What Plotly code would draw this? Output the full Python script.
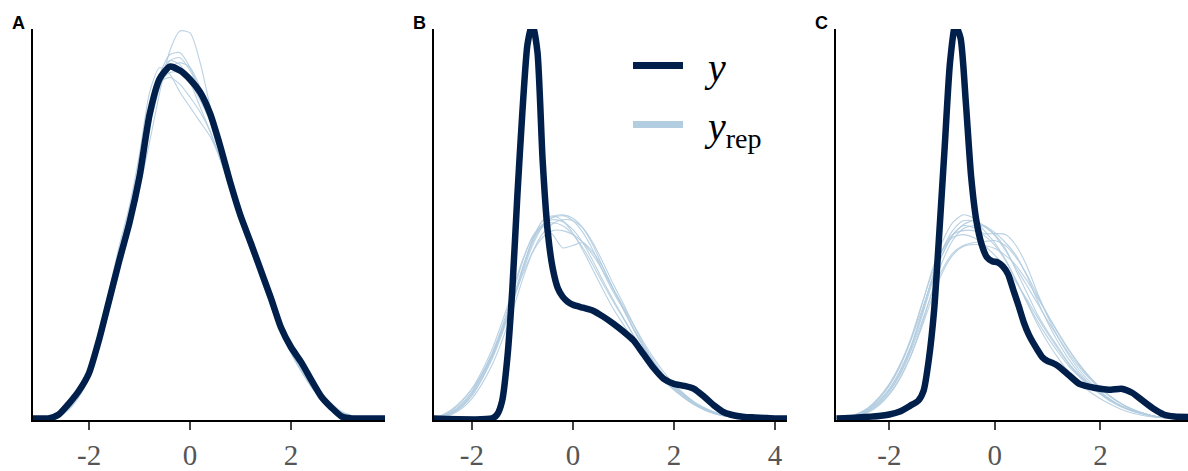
import plotly.graph_objects as go

# ---------------- data ----------------
panel_labels = ["A", "B", "C"]
tick_vals = [[-2, 0, 2], [-2, 0, 2, 4], [-2, 0, 2]]
tick_text = [["-2", "0", "2"], ["-2", "0", "2", "4"], ["-2", "0", "2"]]

# Panel A (density estimates)
grid_a = [round(-3.2 + 0.2 * i, 1) for i in range(37)]
y_a = [0, 0, 0, 0.004, 0.015, 0.028, 0.046, 0.080, 0.120, 0.160, 0.198, 0.245, 0.308, 0.344, 0.356,
       0.352, 0.343, 0.330, 0.308, 0.275, 0.238, 0.205, 0.178, 0.150, 0.122, 0.092, 0.072, 0.057,
       0.039, 0.022, 0.011, 0.002, 0, 0, 0, 0, 0]
yrep_a = [
    [0, 0, 0.001, 0.003, 0.010, 0.022, 0.042, 0.072, 0.110, 0.150, 0.190, 0.232, 0.280, 0.330, 0.372, 0.392, 0.390, 0.360, 0.315, 0.275, 0.238, 0.205, 0.175, 0.145, 0.115, 0.088, 0.066, 0.048, 0.032, 0.020, 0.011, 0.005, 0.002, 0, 0, 0, 0],
    [0, 0, 0.001, 0.005, 0.015, 0.030, 0.050, 0.085, 0.130, 0.175, 0.215, 0.268, 0.330, 0.355, 0.348, 0.330, 0.315, 0.300, 0.285, 0.262, 0.232, 0.202, 0.172, 0.142, 0.114, 0.088, 0.066, 0.048, 0.032, 0.020, 0.011, 0.005, 0.002, 0, 0, 0, 0],
    [0, 0, 0, 0.003, 0.012, 0.026, 0.046, 0.080, 0.122, 0.165, 0.205, 0.250, 0.305, 0.348, 0.368, 0.370, 0.355, 0.330, 0.300, 0.265, 0.232, 0.202, 0.172, 0.142, 0.114, 0.088, 0.068, 0.050, 0.034, 0.022, 0.012, 0.005, 0.002, 0, 0, 0, 0],
    [0, 0, 0.001, 0.004, 0.014, 0.028, 0.048, 0.082, 0.125, 0.168, 0.205, 0.248, 0.300, 0.340, 0.362, 0.365, 0.352, 0.330, 0.302, 0.270, 0.236, 0.205, 0.176, 0.147, 0.118, 0.090, 0.069, 0.052, 0.036, 0.023, 0.013, 0.006, 0.002, 0, 0, 0, 0],
    [0, 0, 0, 0.003, 0.011, 0.024, 0.044, 0.078, 0.120, 0.162, 0.202, 0.250, 0.308, 0.348, 0.362, 0.358, 0.340, 0.315, 0.290, 0.262, 0.232, 0.204, 0.176, 0.150, 0.122, 0.095, 0.072, 0.054, 0.037, 0.024, 0.013, 0.006, 0.002, 0, 0, 0, 0],
    [0, 0, 0.001, 0.004, 0.013, 0.027, 0.047, 0.082, 0.126, 0.170, 0.210, 0.258, 0.312, 0.340, 0.345, 0.338, 0.325, 0.310, 0.290, 0.262, 0.232, 0.204, 0.176, 0.148, 0.120, 0.093, 0.070, 0.052, 0.036, 0.023, 0.013, 0.006, 0.002, 0, 0, 0, 0],
    [0, 0, 0, 0.002, 0.009, 0.022, 0.042, 0.076, 0.118, 0.160, 0.200, 0.244, 0.295, 0.335, 0.355, 0.360, 0.355, 0.335, 0.305, 0.268, 0.230, 0.198, 0.170, 0.142, 0.116, 0.092, 0.072, 0.055, 0.039, 0.026, 0.015, 0.007, 0.003, 0.001, 0, 0, 0],
    [0, 0, 0.001, 0.004, 0.014, 0.029, 0.050, 0.084, 0.128, 0.170, 0.206, 0.252, 0.306, 0.340, 0.350, 0.350, 0.340, 0.322, 0.300, 0.272, 0.240, 0.208, 0.178, 0.148, 0.118, 0.090, 0.068, 0.050, 0.034, 0.021, 0.011, 0.005, 0.002, 0, 0, 0, 0],
]

# Panel B
x_b = [-2.8, -1.6, -1.5, -1.4, -1.3, -1.2, -1.1, -1.0, -0.9, -0.8, -0.7, -0.6, -0.5, -0.4, -0.3, -0.2,
       -0.1, 0.0, 0.2, 0.4, 0.6, 0.8, 1.0, 1.2, 1.4, 1.6, 1.8, 2.0, 2.2, 2.4, 2.6, 2.8, 3.0, 3.2, 3.4,
       3.6, 3.8, 4.0, 4.4]
y_b = [0, 0, 0.008, 0.036, 0.12, 0.26, 0.45, 0.62, 0.756, 0.80, 0.74, 0.524, 0.38, 0.304, 0.264, 0.246,
       0.236, 0.23, 0.224, 0.218, 0.206, 0.192, 0.176, 0.158, 0.13, 0.102, 0.08, 0.07, 0.066, 0.06,
       0.044, 0.026, 0.012, 0.006, 0.003, 0.002, 0.001, 0, 0]
grid_b = [round(-2.8 + 0.2 * i, 1) for i in range(37)]
yrep_b = [
    [0, .004, .012, .028, .052, .088, .128, .18, .236, .30, .356, .39, .406, .41, .40, .376, .34, .296, .256, .22, .18, .144, .112, .084, .064, .048, .032, .02, .012, .006, .003, .001, 0, 0, 0, 0, 0],
    [0, .006, .016, .034, .06, .096, .14, .196, .256, .32, .366, .388, .372, .345, .350, .356, .336, .305, .262, .222, .182, .146, .114, .086, .064, .046, .03, .018, .01, .005, .002, .001, 0, 0, 0, 0, 0],
    [0, .003, .01, .024, .046, .08, .12, .172, .232, .3, .362, .4, .41, .4, .375, .34, .3, .26, .222, .19, .158, .128, .1, .076, .058, .042, .028, .017, .01, .005, .002, .001, 0, 0, 0, 0, 0],
    [0, .002, .008, .02, .04, .07, .108, .158, .216, .28, .336, .374, .394, .402, .40, .385, .355, .315, .272, .232, .19, .15, .116, .088, .066, .048, .032, .02, .012, .006, .003, .001, 0, 0, 0, 0, 0],
    [0, .006, .018, .036, .06, .09, .13, .186, .25, .316, .368, .392, .396, .39, .372, .345, .31, .272, .236, .202, .168, .136, .106, .08, .06, .044, .03, .019, .011, .006, .003, .001, 0, 0, 0, 0, 0],
    [0, .003, .01, .024, .046, .08, .124, .176, .232, .294, .35, .388, .408, .412, .405, .385, .35, .305, .262, .222, .182, .144, .11, .082, .062, .046, .031, .02, .012, .006, .003, .001, 0, 0, 0, 0, 0],
    [0, .005, .014, .03, .055, .09, .132, .182, .236, .29, .336, .366, .38, .38, .372, .356, .33, .298, .262, .226, .19, .154, .122, .094, .07, .05, .034, .022, .013, .007, .003, .001, 0, 0, 0, 0, 0],
    [0, .004, .012, .026, .05, .084, .126, .178, .238, .304, .36, .392, .402, .398, .382, .355, .318, .278, .24, .204, .168, .134, .104, .078, .058, .042, .028, .018, .01, .005, .002, .001, 0, 0, 0, 0, 0],
]

# Panel C
x_c = [-3.0, -2.6, -2.2, -2.0, -1.8, -1.6, -1.45, -1.35, -1.25, -1.15, -1.05, -0.95, -0.85, -0.75,
       -0.65, -0.55, -0.45, -0.35, -0.25, -0.15, -0.05, 0.05, 0.15, 0.25, 0.35, 0.45, 0.55, 0.65, 0.8,
       0.9, 1.0, 1.1, 1.2, 1.4, 1.6, 1.8, 2.0, 2.2, 2.4, 2.6, 2.8, 3.0, 3.2, 3.4, 3.7]
y_c = [0, .002, .005, .008, .014, .026, .036, .056, .12, .22, .38, .55, .72, .796, .77, .64, .49, .40,
       .352, .326, .318, .316, .308, .292, .26, .228, .194, .168, .14, .124, .116, .112, .106, .088,
       .07, .064, .06, .058, .06, .052, .036, .02, .008, .004, .003]
grid_c = [round(-3.2 + 0.2 * i, 1) for i in range(36)]
yrep_c = [
    [0, 0, .002, .008, .018, .036, .06, .096, .144, .208, .28, .34, .38, .40, .40, .388, .372, .344, .30, .256, .212, .176, .144, .112, .088, .068, .052, .036, .024, .016, .01, .005, .002, 0, 0, 0],
    [0, 0, .003, .009, .02, .04, .066, .104, .156, .224, .296, .356, .396, .412, .405, .38, .355, .322, .28, .238, .198, .164, .134, .106, .084, .065, .049, .034, .023, .015, .009, .004, .002, 0, 0, 0],
    [0, 0, .002, .007, .016, .032, .056, .09, .138, .2, .27, .33, .372, .39, .386, .374, .374, .372, .35, .31, .256, .206, .164, .128, .098, .074, .054, .038, .025, .016, .01, .005, .002, 0, 0, 0],
    [0, 0, .002, .006, .014, .028, .05, .082, .126, .18, .24, .294, .33, .348, .352, .35, .344, .33, .31, .28, .246, .21, .174, .14, .11, .084, .062, .044, .03, .019, .011, .005, .002, 0, 0, 0],
    [0, 0, .003, .01, .022, .042, .07, .108, .156, .214, .276, .33, .37, .392, .40, .39, .37, .34, .305, .27, .234, .198, .164, .132, .104, .08, .06, .043, .029, .018, .011, .005, .002, 0, 0, 0],
    [0, 0, .002, .008, .02, .04, .068, .108, .16, .226, .29, .34, .366, .372, .366, .35, .33, .306, .276, .242, .206, .172, .14, .11, .086, .066, .05, .035, .024, .015, .009, .004, .002, 0, 0, 0],
    [0, 0, .001, .005, .012, .026, .048, .08, .124, .184, .254, .316, .36, .384, .39, .39, .376, .356, .33, .29, .24, .194, .154, .12, .092, .07, .052, .037, .025, .016, .01, .005, .002, 0, 0, 0],
    [0, 0, .002, .007, .017, .034, .058, .094, .142, .206, .278, .34, .372, .38, .38, .37, .35, .32, .28, .236, .192, .154, .122, .094, .072, .054, .04, .028, .018, .011, .006, .003, .001, 0, 0, 0],
    [0, 0, .002, .006, .015, .03, .054, .088, .134, .19, .25, .3, .334, .35, .356, .358, .36, .35, .326, .292, .25, .21, .172, .138, .108, .082, .061, .044, .03, .019, .011, .005, .002, 0, 0, 0],
]

x_ranges = [[-3.11, 3.86], [-2.75, 4.24], [-3.01, 3.66]]
y_max = [0.394, 0.788, 0.788]

# ---------------- style ----------------
DARK = "#011f4b"
LIGHT = "#b3cde0"
SERIF = "Liberation Serif"
W, H = 1188, 471
domains = [[33 / W, 385 / W], [434 / W, 787 / W], [836 / W, 1.0]]
label_x = [18 / W, 419 / W, 821 / W]

panels = [
    (grid_a, yrep_a, grid_a, y_a),
    (grid_b, yrep_b, x_b, y_b),
    (grid_c, yrep_c, x_c, y_c),
]

fig = go.Figure()
for i, (gx, reps, dx, dy) in enumerate(panels):
    xa = "x" if i == 0 else f"x{i + 1}"
    ya = "y" if i == 0 else f"y{i + 1}"
    for r in reps:
        fig.add_trace(go.Scatter(x=gx, y=r, xaxis=xa, yaxis=ya, mode="lines",
                                 line=dict(color=LIGHT, width=1.1, shape="spline", smoothing=0.7),
                                 opacity=0.9, showlegend=False, hoverinfo="skip"))
    fig.add_trace(go.Scatter(x=dx, y=dy, xaxis=xa, yaxis=ya, mode="lines",
                             line=dict(color=DARK, width=6.5, shape="spline", smoothing=0.6),
                             showlegend=False, hoverinfo="skip"))

# legend entries
NB = "\u00a0\u00a0"
fig.add_trace(go.Scatter(x=[None], y=[None], xaxis="x2", yaxis="y2", mode="lines",
                         line=dict(color=DARK, width=7), name=NB + "<i>y</i>", legendgroup="g1"))
fig.add_trace(go.Scatter(x=[None], y=[None], xaxis="x2", yaxis="y2", mode="lines",
                         line=dict(color=LIGHT, width=7), name=NB + "<i>y</i><sub>rep</sub>",
                         legendgroup="g2"))

layout = dict(
    width=W, height=H,
    margin=dict(l=0, r=0, t=29, b=48),
    paper_bgcolor="white", plot_bgcolor="white",
    showlegend=True,
    legend=dict(x=628 / W, y=0.99, xanchor="left", yanchor="top",
                font=dict(family=SERIF, size=40, color="black"),
                bgcolor="rgba(0,0,0,0)", itemwidth=50, tracegroupgap=4),
    annotations=[],
)
for i in range(3):
    xk = "xaxis" if i == 0 else f"xaxis{i + 1}"
    yk = "yaxis" if i == 0 else f"yaxis{i + 1}"
    ya = "y" if i == 0 else f"y{i + 1}"
    xa = "x" if i == 0 else f"x{i + 1}"
    layout[xk] = dict(domain=domains[i], range=x_ranges[i], anchor=ya,
                      tickvals=tick_vals[i], ticktext=tick_text[i],
                      ticks="outside", ticklen=8, tickwidth=1.5, tickcolor="#444",
                      showline=True, linecolor="black", linewidth=2.2,
                      showgrid=False, zeroline=False,
                      tickfont=dict(family=SERIF, size=29, color="#555555"))
    layout[yk] = dict(domain=[0, 1], range=[-0.004 * y_max[i], y_max[i]], anchor=xa,
                      showline=True, linecolor="black", linewidth=2.2,
                      showticklabels=False, ticks="", showgrid=False, zeroline=False)
    layout["annotations"].append(dict(
        text=f"<b>{panel_labels[i]}</b>", x=label_x[i], y=(423 - 23) / 394,
        xref="paper", yref="paper", xanchor="center", yanchor="middle", showarrow=False,
        font=dict(family="Liberation Sans", size=18, color="black")))

fig.update_layout(**layout)
fig.write_html("out.html", config={"displayModeBar": False},
               post_script="document.body.style.margin='0';document.body.style.overflow='hidden';")
